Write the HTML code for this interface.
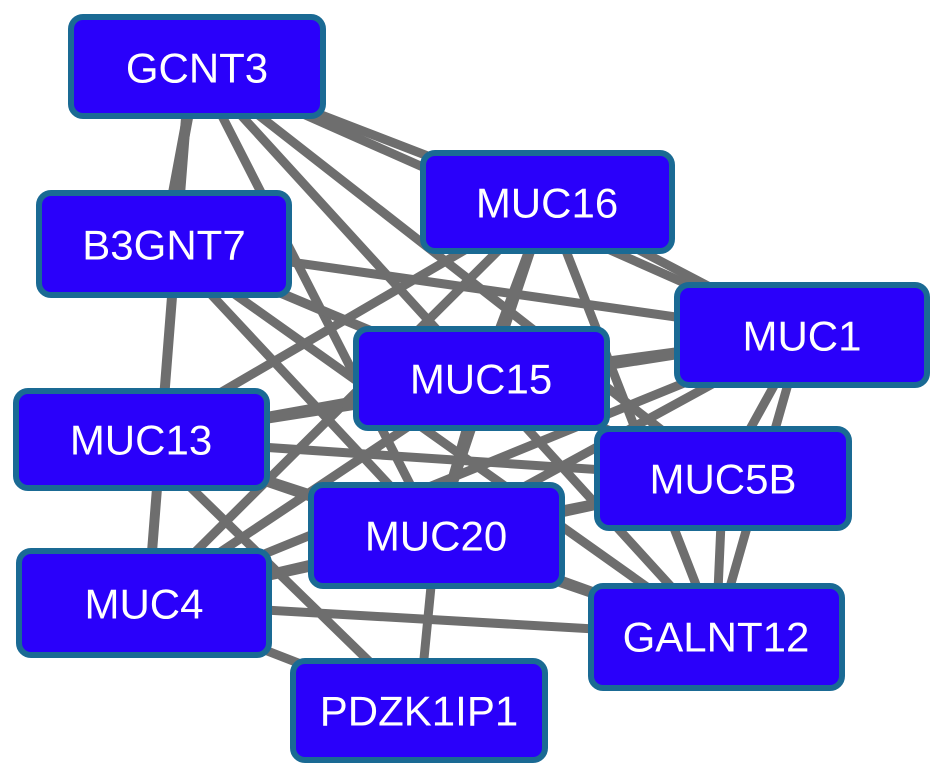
<!DOCTYPE html>
<html><head><meta charset="utf-8"><style>
body{margin:0;background:#fff;}
svg{display:block}
text{font-family:"Liberation Sans",sans-serif;font-size:42px;fill:#fff;text-anchor:middle;dominant-baseline:central}
</style></head><body>
<svg width="945" height="781" viewBox="0 0 945 781" xmlns="http://www.w3.org/2000/svg">
<g stroke="#6e6e6e" stroke-width="9" stroke-linecap="round">
<line x1="197" y1="67" x2="164" y2="244" stroke-width="11"/>
<line x1="190" y1="67" x2="148" y2="603" stroke-width="10"/>
<line x1="197" y1="67" x2="547" y2="202"/>
<line x1="197" y1="67" x2="802" y2="335"/>
<line x1="197" y1="67" x2="481" y2="378"/>
<line x1="197" y1="67" x2="723" y2="478"/>
<line x1="197" y1="67" x2="436" y2="535"/>
<line x1="164" y1="244" x2="802" y2="335"/>
<line x1="164" y1="244" x2="481" y2="378"/>
<line x1="164" y1="244" x2="723" y2="478"/>
<line x1="164" y1="244" x2="436" y2="535"/>
<line x1="164" y1="244" x2="716" y2="636"/>
<line x1="547" y1="202" x2="802" y2="335"/>
<line x1="547" y1="202" x2="141" y2="439"/>
<line x1="547" y1="202" x2="481" y2="378"/>
<line x1="547" y1="202" x2="436" y2="535"/>
<line x1="547" y1="202" x2="144" y2="603"/>
<line x1="547" y1="202" x2="716" y2="636"/>
<line x1="802" y1="335" x2="481" y2="378"/>
<line x1="802" y1="335" x2="141" y2="439"/>
<line x1="802" y1="335" x2="436" y2="535"/>
<line x1="802" y1="335" x2="716" y2="636"/>
<line x1="802" y1="335" x2="144" y2="603"/>
<line x1="802" y1="335" x2="723" y2="478"/>
<line x1="481" y1="378" x2="141" y2="439"/>
<line x1="481" y1="378" x2="144" y2="603"/>
<line x1="481" y1="378" x2="436" y2="535"/>
<line x1="481" y1="378" x2="716" y2="636"/>
<line x1="481" y1="378" x2="723" y2="478"/>
<line x1="141" y1="439" x2="723" y2="478"/>
<line x1="141" y1="439" x2="436" y2="535"/>
<line x1="141" y1="439" x2="419" y2="710"/>
<line x1="141" y1="439" x2="716" y2="636"/>
<line x1="723" y1="478" x2="716" y2="636"/>
<line x1="723" y1="478" x2="436" y2="535"/>
<line x1="723" y1="478" x2="144" y2="603"/>
<line x1="436" y1="535" x2="144" y2="603"/>
<line x1="436" y1="535" x2="419" y2="710"/>
<line x1="436" y1="535" x2="716" y2="636"/>
<line x1="144" y1="603" x2="716" y2="636"/>
<line x1="144" y1="603" x2="419" y2="710"/>
</g>
<g fill="#2a00fa" stroke="#1a6a94" stroke-width="6">
<rect x="71" y="17" width="252" height="99" rx="12"/>
<rect x="39" y="193" width="250" height="102" rx="12"/>
<rect x="423" y="153" width="249" height="98" rx="12"/>
<rect x="677" y="285" width="250" height="100" rx="12"/>
<rect x="356" y="329" width="251" height="99" rx="12"/>
<rect x="16" y="391" width="251" height="97" rx="12"/>
<rect x="597" y="429" width="252" height="99" rx="12"/>
<rect x="311" y="485" width="251" height="101" rx="12"/>
<rect x="19" y="551" width="250" height="104" rx="12"/>
<rect x="591" y="586" width="251" height="102" rx="12"/>
<rect x="293" y="661" width="252" height="99" rx="12"/>
</g>
<text x="197" y="68">GCNT3</text>
<text x="164" y="245">B3GNT7</text>
<text x="547" y="203">MUC16</text>
<text x="802" y="336">MUC1</text>
<text x="481" y="379">MUC15</text>
<text x="141" y="440">MUC13</text>
<text x="723" y="479">MUC5B</text>
<text x="436" y="536">MUC20</text>
<text x="144" y="604">MUC4</text>
<text x="716" y="637">GALNT12</text>
<text x="419" y="711">PDZK1IP1</text>
</svg>
</body></html>
